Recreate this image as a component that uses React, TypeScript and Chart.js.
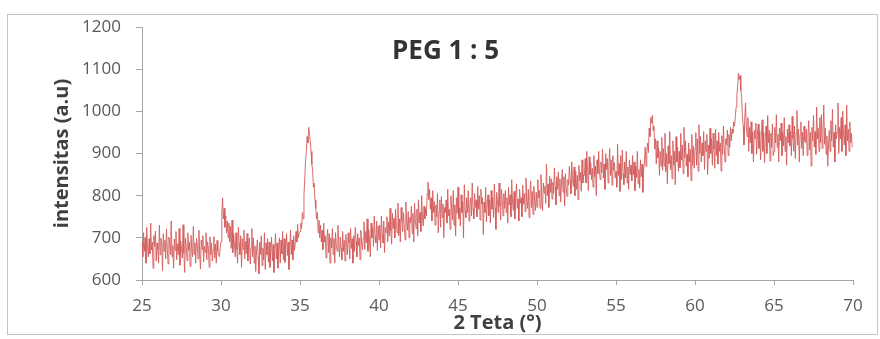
import React, { useEffect, useRef } from "react";
import { Chart, registerables } from "chart.js";

Chart.register(...registerables);

// ---- text ----
const chartTitle = "PEG 1 : 5";
const xAxisTitle = "2 Teta (°)";
const yAxisTitle = "intensitas (a.u)";

// ---- axes ----
const xTickValues = [25, 30, 35, 40, 45, 50, 55, 60, 65, 70];
const yTickValues = [600, 700, 800, 900, 1000, 1100, 1200];

// ---- scan sampling (2θ, degrees) ----
const angleStart = 25.0;
const angleStep = 0.05;

// ---- intensities (a.u), one row per degree (20 samples) ----
const int25to30 = [
  690, 655, 712, 668, 701, 640, 725, 676, 655, 698, 662, 735, 671, 690, 628, 705, 680, 716, 645, 688,
  672, 640, 730, 660, 699, 683, 622, 710, 668, 694, 650, 721, 676, 638, 702, 689, 660, 740, 655, 681,
  628, 697, 670, 715, 648, 686, 660, 722, 635, 692, 675, 652, 731, 664, 618, 700, 681, 646, 712, 670,
  690, 632, 706, 672, 655, 727, 661, 688, 640, 699, 684, 650, 718, 663, 626, 695, 672, 705, 643, 680,
  665, 712, 648, 691, 676, 630, 702, 660, 688, 645, 672, 703, 652, 685, 640, 694, 668, 660, 655, 676,
];
const int30to35 = [
  690, 760, 795, 745, 770, 725, 752, 712, 740, 700, 735, 690, 728, 675, 742, 665, 710, 688, 655, 712,
  672, 640, 725, 688, 660, 705, 630, 698, 672, 718, 650, 692, 662, 710, 645, 685, 700, 638, 676, 722,
  655, 700, 640, 681, 620, 672, 695, 658, 615, 690, 660, 705, 634, 676, 648, 712, 625, 688, 660, 698,
  642, 690, 630, 668, 702, 645, 684, 618, 672, 710, 650, 688, 628, 676, 700, 640, 695, 662, 715, 648,
  698, 642, 676, 710, 658, 690, 625, 672, 718, 660, 695, 648, 705, 670, 688, 715, 690, 732, 700, 712,
];
const int35to40 = [
  715, 735, 722, 760, 745, 800, 840, 880, 905, 940, 925, 962, 948, 930, 905, 875, 860, 820, 830, 790,
  770, 745, 760, 712, 742, 700, 730, 690, 718, 672, 735, 690, 705, 652, 698, 720, 665, 710, 640, 700,
  676, 722, 660, 698, 640, 712, 684, 668, 730, 690, 655, 702, 676, 648, 715, 668, 694, 645, 708, 680,
  660, 712, 688, 650, 722, 675, 698, 640, 705, 668, 725, 692, 655, 710, 682, 700, 648, 718, 690, 672,
  700, 738, 672, 715, 688, 745, 668, 720, 695, 655, 735, 700, 725, 680, 752, 702, 688, 740, 670, 728,
];
const int40to45 = [
  695, 730, 676, 752, 708, 688, 740, 665, 725, 712, 750, 690, 738, 704, 770, 716, 685, 758, 722, 746,
  700, 768, 730, 712, 782, 705, 745, 690, 772, 738, 715, 760, 728, 695, 785, 740, 718, 762, 700, 748,
  735, 775, 710, 758, 690, 782, 742, 722, 768, 705, 790, 735, 760, 715, 800, 748, 728, 775, 745, 770,
  752, 805, 832, 790, 815, 768, 795, 740, 812, 760, 786, 730, 778, 750, 805, 712, 762, 790, 725, 798,
  748, 780, 700, 772, 760, 790, 735, 815, 752, 768, 720, 800, 765, 742, 812, 730, 778, 705, 795, 758,
];
const int45to50 = [
  820, 745, 770, 728, 802, 760, 785, 700, 826, 765, 748, 795, 760, 812, 740, 778, 795, 752, 830, 770,
  745, 805, 772, 790, 750, 822, 768, 800, 742, 815, 780, 795, 708, 785, 760, 820, 738, 778, 802, 752,
  790, 735, 812, 768, 795, 748, 828, 772, 720, 808, 785, 760, 830, 775, 742, 815, 790, 752, 805, 770,
  812, 760, 795, 735, 820, 778, 802, 750, 838, 785, 765, 810, 745, 798, 828, 770, 792, 740, 815, 782,
  795, 750, 825, 780, 805, 762, 842, 790, 770, 815, 748, 800, 835, 772, 810, 755, 822, 788, 765, 808,
];
const int50to55 = [
  772, 838, 795, 812, 770, 850, 800, 765, 830, 806, 822, 782, 875, 800, 828, 772, 846, 808, 840, 792,
  832, 805, 866, 820, 778, 845, 815, 856, 800, 840, 785, 830, 862, 808, 845, 775, 852, 820, 798, 838,
  825, 870, 838, 805, 880, 842, 822, 868, 800, 858, 815, 848, 790, 872, 835, 855, 810, 885, 830, 850,
  848, 888, 830, 905, 860, 812, 892, 850, 878, 838, 865, 820, 895, 845, 870, 800, 885, 852, 905, 860,
  838, 880, 855, 910, 842, 875, 815, 900, 862, 888, 830, 870, 912, 848, 885, 825, 895, 860, 878, 842,
];
const int55to60 = [
  858, 820, 922, 848, 876, 810, 895, 838, 908, 852, 826, 880, 842, 905, 830, 868, 815, 885, 850, 872,
  835, 895, 850, 880, 812, 870, 842, 905, 828, 862, 818, 885, 845, 875, 808, 860, 880, 915, 870, 905,
  925, 902, 960, 940, 985, 972, 990, 955, 965, 910, 935, 875, 930, 890, 912, 848, 905, 870, 938, 860,
  912, 870, 948, 856, 900, 828, 918, 876, 952, 862, 895, 840, 930, 872, 905, 826, 940, 880, 915, 858,
  905, 866, 948, 884, 920, 852, 962, 890, 930, 870, 898, 845, 925, 880, 910, 835, 945, 872, 918, 865,
];
const int60to65 = [
  912, 950, 872, 935, 858, 968, 900, 940, 880, 925, 895, 952, 862, 930, 905, 945, 850, 920, 888, 960,
  900, 935, 872, 948, 910, 865, 958, 895, 930, 875, 950, 905, 925, 858, 942, 898, 965, 912, 880, 935,
  920, 955, 895, 945, 915, 962, 930, 958, 948, 975, 965, 985, 1010, 1040, 1060, 1090, 1075, 1085, 1050, 1035,
  990, 965, 920, 985, 1020, 960, 940, 985, 905, 962, 925, 975, 900, 950, 880, 955, 935, 972, 898, 945,
  970, 912, 952, 885, 945, 980, 905, 950, 878, 938, 965, 900, 990, 925, 955, 882, 948, 915, 970, 895,
];
const int65to70 = [
  905, 962, 925, 992, 915, 945, 880, 960, 930, 972, 895, 950, 918, 985, 905, 940, 872, 958, 925, 968,
  918, 952, 895, 988, 935, 905, 965, 888, 948, 1002, 920, 958, 880, 945, 975, 912, 950, 895, 965, 930,
  925, 958, 895, 942, 978, 908, 950, 870, 962, 930, 990, 915, 952, 898, 1010, 935, 960, 905, 985, 925,
  992, 912, 948, 1015, 922, 960, 898, 942, 870, 918, 955, 905, 978, 930, 1005, 915, 950, 880, 968, 935,
  950, 1020, 900, 962, 935, 985, 905, 1000, 945, 920, 968, 895, 1015, 930, 958, 905, 975, 925, 948, 915,
];

const intensities = [
  ...int25to30, ...int30to35, ...int35to40, ...int40to45, ...int45to50,
  ...int50to55, ...int55to60, ...int60to65, ...int65to70,
];

const FONT = '"Open Sans", "Noto Sans", sans-serif';

const framePlugin = {
  id: "frameAndTitle",
  beforeDraw(chart: any) {
    const ctx = chart.ctx;
    ctx.save();
    ctx.fillStyle = "#ffffff";
    ctx.fillRect(0, 0, chart.width, chart.height);
    ctx.strokeStyle = "#c4c4c4";
    ctx.lineWidth = 1;
    ctx.strokeRect(7.5, 14.5, 870, 320);
    ctx.restore();
  },
  afterDraw(chart: any) {
    const ctx = chart.ctx;
    const area = chart.chartArea;
    ctx.save();
    ctx.font = `bold 26px ${FONT}`;
    ctx.fillStyle = "#333333";
    ctx.textAlign = "center";
    ctx.textBaseline = "middle";
    ctx.fillText(chartTitle, area.left + (area.right - area.left) * 0.427, 52);
    ctx.restore();
  },
};

export default function App() {
  const canvasRef = useRef<HTMLCanvasElement | null>(null);

  useEffect(() => {
    const canvas = canvasRef.current;
    if (!canvas) return;
    const points = intensities.map((y, i) => ({
      x: Math.round((angleStart + i * angleStep) * 100) / 100,
      y,
    }));
    const chart = new Chart(canvas, {
      type: "line",
      data: {
        datasets: [
          {
            data: points,
            borderColor: "rgb(212, 92, 92)",
            borderWidth: 0.9,
            pointRadius: 0,
            tension: 0,
            fill: false,
          },
        ],
      },
      options: {
        animation: false,
        responsive: false,
        maintainAspectRatio: false,
        parsing: false,
        normalized: true,
        layout: { padding: { left: 0, top: 27, right: 27, bottom: 0 } },
        plugins: {
          legend: { display: false },
          tooltip: { enabled: false },
          title: { display: false },
        },
        scales: {
          x: {
            type: "linear",
            min: 25,
            max: 70,
            afterBuildTicks: (s: any) => {
              s.ticks = xTickValues.map((v) => ({ value: v }));
            },
            afterFit: (s: any) => {
              s.height = 59;
            },
            ticks: {
              autoSkip: false,
              maxRotation: 0,
              color: "#595959",
              font: { family: FONT, size: 17 },
              padding: 11,
              callback: (v: any) => String(v),
            },
            grid: {
              drawOnChartArea: false,
              drawTicks: true,
              tickLength: 5,
              color: "#a6a6a6",
            },
            border: { display: true, color: "#a6a6a6", width: 1 },
            title: {
              display: true,
              text: xAxisTitle,
              color: "#404040",
              font: { family: FONT, size: 20, weight: "bold" },
              padding: { top: 0, bottom: 4 },
            },
          },
          y: {
            type: "linear",
            min: 600,
            max: 1200,
            afterBuildTicks: (s: any) => {
              s.ticks = yTickValues.map((v) => ({ value: v }));
            },
            afterFit: (s: any) => {
              s.width = 142;
            },
            ticks: {
              color: "#595959",
              font: { family: FONT, size: 17 },
              padding: 15,
              callback: (v: any) => String(v),
            },
            grid: {
              drawOnChartArea: false,
              drawTicks: true,
              tickLength: 6,
              color: "#a6a6a6",
            },
            border: { display: true, color: "#a6a6a6", width: 1 },
            title: {
              display: true,
              text: yAxisTitle,
              color: "#404040",
              font: { family: FONT, size: 20, weight: "bold" },
              padding: { top: 50, bottom: 0 },
            },
          },
        },
      },
      plugins: [framePlugin],
    } as any);
    return () => chart.destroy();
  }, []);

  return (
    <div style={{ position: "fixed", left: 0, top: 0, width: 880, height: 339 }}>
      <canvas ref={canvasRef} width={880} height={339} style={{ width: 880, height: 339 }} />
    </div>
  );
}
